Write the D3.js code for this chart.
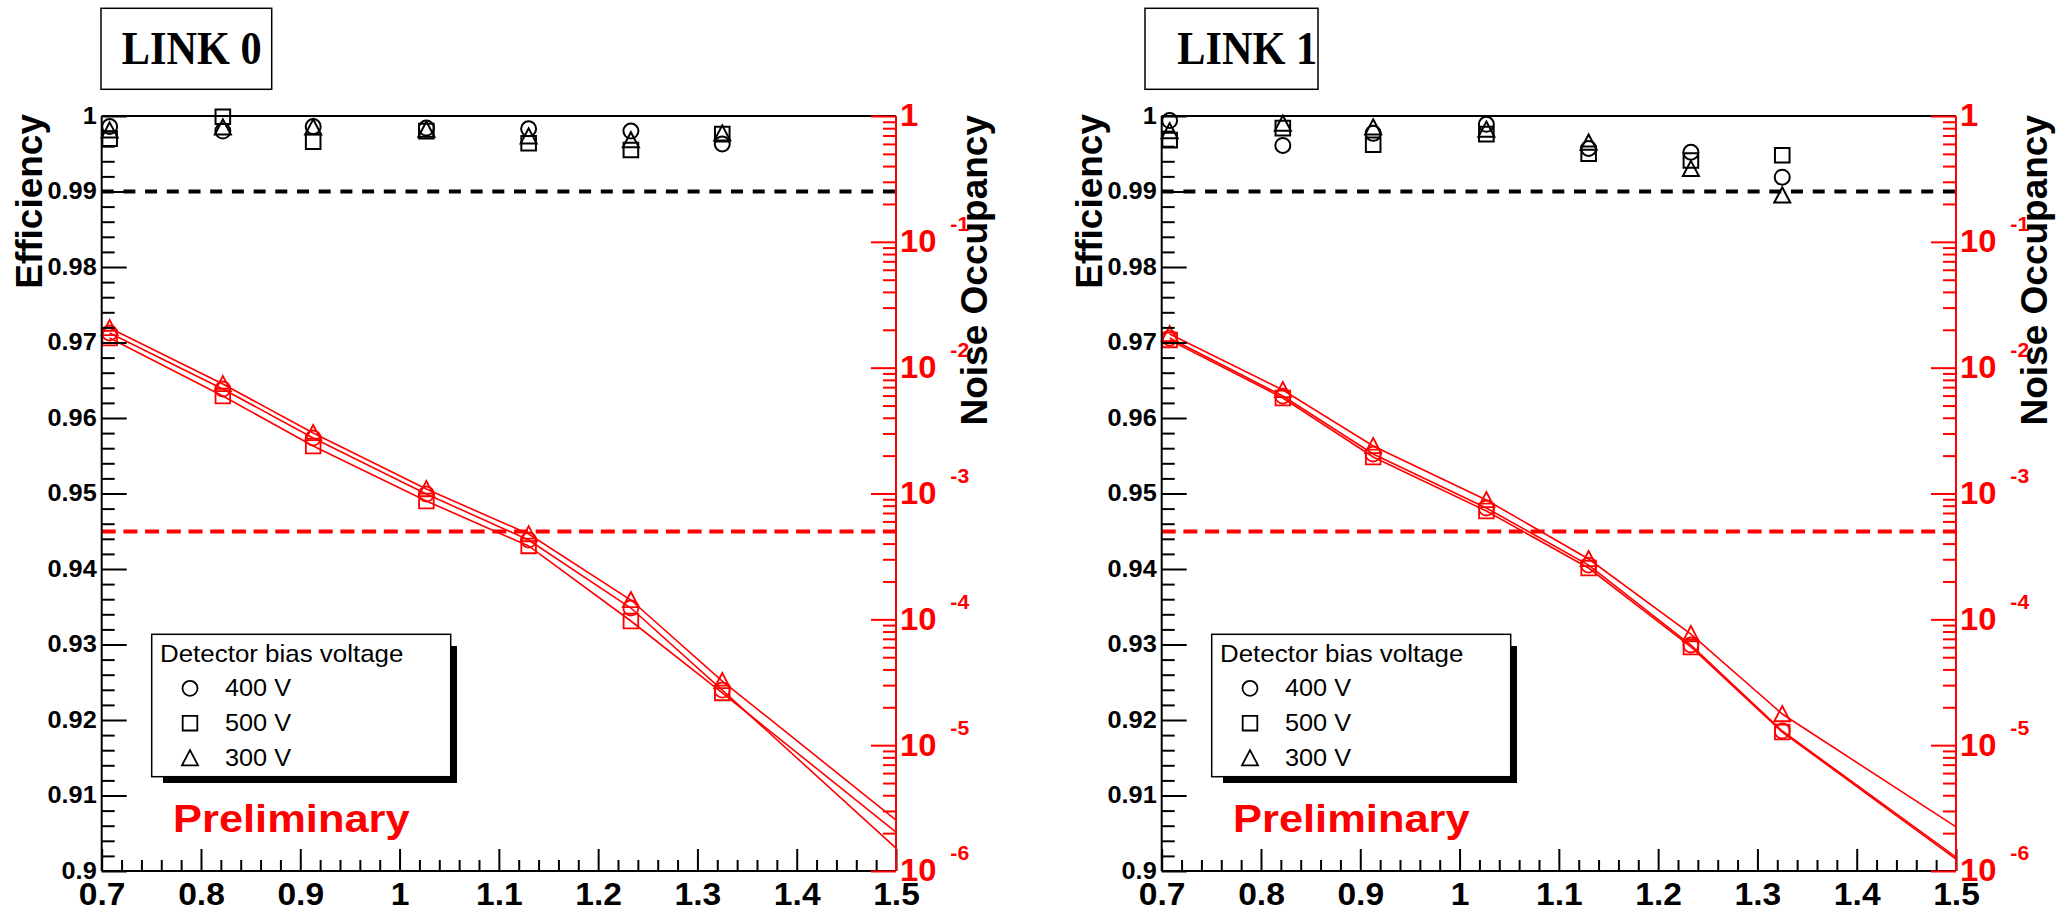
<!DOCTYPE html>
<html>
<head>
<meta charset="utf-8">
<script src="https://cdn.jsdelivr.net/npm/d3@7"></script>
<style>
  html, body { margin: 0; padding: 0; background: #fff; }
  svg { display: block; font-family: "Liberation Sans", Arial, Helvetica, sans-serif; }
</style>
</head>
<body>
<svg id="chart" width="2067" height="913"></svg>
<script>
// ---- data -------------------------------------------------------------
// Discriminator threshold of each scan point
const thresholds = [0.708, 0.822, 0.913, 1.027, 1.13, 1.233, 1.325];
const voltages = ["400 V", "500 V", "300 V"];
const markerShapes = ["circle", "square", "triangle"];

const xTickValues = [0.7, 0.8, 0.9, 1.0, 1.1, 1.2, 1.3, 1.4, 1.5];
const xTickLabels = ["0.7", "0.8", "0.9", "1", "1.1", "1.2", "1.3", "1.4", "1.5"];
const effTickValues = [1.0, 0.99, 0.98, 0.97, 0.96, 0.95, 0.94, 0.93, 0.92, 0.91, 0.9];
const effTickLabels = ["1", "0.99", "0.98", "0.97", "0.96", "0.95", "0.94", "0.93", "0.92", "0.91", "0.9"];
const noiseDecades = [0, -1, -2, -3, -4, -5, -6];

const effTarget = 0.99;       // black dashed line
const noiseLimit = 5e-4;      // red dashed line
const extrapolationX = 1.5;   // noise curves are extended to this threshold

// LINK 0
const link0Eff400 = [0.9986, 0.9980, 0.9986, 0.9984, 0.9983, 0.9980, 0.9963];
const link0Eff500 = [0.9970, 0.9999, 0.9966, 0.9980, 0.9964, 0.9955, 0.9976];
const link0Eff300 = [0.9981, 0.9985, 0.9985, 0.9982, 0.9973, 0.9968, 0.9977];
const link0Noise400 = [1.886e-2, 6.77e-3, 2.76e-3, 9.91e-4, 4.27e-4, 1.23e-4, 2.74e-5];
const link0Noise500 = [1.72e-2, 5.95e-3, 2.385e-3, 8.72e-4, 3.83e-4, 9.70e-5, 2.60e-5];
const link0Noise300 = [2.066e-2, 7.42e-3, 3.025e-3, 1.085e-3, 4.76e-4, 1.424e-4, 3.234e-5];
const link0NoiseExtrap = [1.52e-6, 2.04e-6, 2.54e-6];   // 400 V, 500 V, 300 V at x = 1.5

// LINK 1
const link1Eff400 = [0.9994, 0.9961, 0.9977, 0.9989, 0.9957, 0.9952, 0.9919];
const link1Eff500 = [0.9968, 0.9984, 0.9962, 0.9976, 0.9950, 0.9941, 0.9948];
const link1Eff300 = [0.9980, 0.9990, 0.9985, 0.9982, 0.9965, 0.9930, 0.9895];
const link1Noise400 = [1.72e-2, 5.95e-3, 2.06e-3, 7.67e-4, 2.70e-4, 6.25e-5, 1.296e-5];
const link1Noise500 = [1.66e-2, 5.74e-3, 1.95e-3, 7.26e-4, 2.557e-4, 6.03e-5, 1.272e-5];
const link1Noise300 = [1.851e-2, 6.65e-3, 2.385e-3, 8.88e-4, 3.015e-4, 7.64e-5, 1.768e-5];
const link1NoiseExtrap = [1.29e-6, 1.245e-6, 2.24e-6];

// ---- layout -----------------------------------------------------------
const RED = "#ff0000";
const plotW = 794.3, plotH = 755;

const panels = [
  { name: "LINK 0", left: 101.7, top: 116, boxX: -0.7, boxW: 170.7, textX: 20,
    eff: [link0Eff400, link0Eff500, link0Eff300],
    noise: [link0Noise400, link0Noise500, link0Noise300], extrap: link0NoiseExtrap },
  { name: "LINK 1", left: 1161.7, top: 116, boxX: -16.7, boxW: 173, textX: 15.5,
    eff: [link1Eff400, link1Eff500, link1Eff300],
    noise: [link1Noise400, link1Noise500, link1Noise300], extrap: link1NoiseExtrap }
];

const x = d3.scaleLinear().domain([0.7, 1.5]).range([0, plotW]);
const yEff = d3.scaleLinear().domain([0.9, 1.0]).range([plotH, 0]);
const yNoise = d3.scaleLog().domain([1e-6, 1]).range([plotH, 0]);

const svg = d3.select("#chart");

// Widen text horizontally around its anchor point
function stretch(sel, sx) {
  sel.each(function () {
    const t = d3.select(this);
    const tx = +t.attr("x") || 0;
    t.attr("x", 0).attr("transform", `translate(${tx},0) scale(${sx},1)`);
  });
}

function markerPath(shape) {
  if (shape === "circle") {
    const r = 7.5;
    return `M${r},0A${r},${r} 0 1,1 ${-r},0A${r},${r} 0 1,1 ${r},0Z`;
  }
  if (shape === "square") {
    const h = 7.3;
    return `M${-h},${-h}H${h}V${h}H${-h}Z`;
  }
  const h = 8;
  return `M0,${-h}L${h},${h * 0.9}L${-h},${h * 0.9}Z`;
}

panels.forEach(p => {
  const g = svg.append("g").attr("transform", `translate(${p.left},${p.top})`);

  // top frame edge
  g.append("line").attr("x1", 0).attr("x2", plotW).attr("y1", 0).attr("y2", 0)
    .attr("stroke", "#000").attr("stroke-width", 2);

  // reference levels
  g.append("line").attr("x1", 0).attr("x2", plotW)
    .attr("y1", yEff(effTarget)).attr("y2", yEff(effTarget))
    .attr("stroke", "#000").attr("stroke-width", 4).attr("stroke-dasharray", "12,9.7");
  g.append("line").attr("x1", 0).attr("x2", plotW)
    .attr("y1", yNoise(noiseLimit)).attr("y2", yNoise(noiseLimit))
    .attr("stroke", RED).attr("stroke-width", 4).attr("stroke-dasharray", "14,7.7");

  // noise occupancy curves
  const line = d3.line().x(d => x(d[0])).y(d => yNoise(d[1]));
  p.noise.forEach((series, k) => {
    const pts = thresholds.map((t, i) => [t, series[i]]).concat([[extrapolationX, p.extrap[k]]]);
    g.append("path").attr("d", line(pts)).attr("fill", "none")
      .attr("stroke", RED).attr("stroke-width", 1.6);
  });
  p.noise.forEach((series, k) => {
    g.append("g").selectAll("path").data(series).join("path")
      .attr("d", markerPath(markerShapes[k]))
      .attr("transform", (d, i) => `translate(${x(thresholds[i])},${yNoise(d)})`)
      .attr("fill", "none").attr("stroke", RED).attr("stroke-width", 1.8);
  });

  // efficiency points
  p.eff.forEach((series, k) => {
    g.append("g").selectAll("path").data(series).join("path")
      .attr("d", markerPath(markerShapes[k]))
      .attr("transform", (d, i) => `translate(${x(thresholds[i])},${yEff(d)})`)
      .attr("fill", "none").attr("stroke", "#000").attr("stroke-width", 2);
  });

  // x axis
  const xMinor = d3.range(0, 41).map(i => 0.7 + i * 0.02).filter((v, i) => i % 5 !== 0);
  const gxm = g.append("g").attr("transform", `translate(0,${plotH})`)
    .call(d3.axisBottom(x).tickValues(xMinor).tickSizeInner(-11).tickSizeOuter(0).tickFormat(""));
  const gx = g.append("g").attr("transform", `translate(0,${plotH})`)
    .call(d3.axisBottom(x).tickValues(xTickValues).tickSizeInner(-22).tickSizeOuter(0)
      .tickPadding(11).tickFormat((d, i) => xTickLabels[i]));
  [gxm, gx].forEach(a => { a.select(".domain").remove(); a.selectAll("line").attr("stroke", "#000").attr("stroke-width", 2); });
  gx.selectAll("text").attr("font-size", 32).attr("font-weight", "bold").attr("fill", "#000")
    .style("font-family", "'Liberation Sans', Arial, sans-serif");
  stretch(gx.selectAll("text"), 1.05);
  g.append("line").attr("x1", 0).attr("x2", plotW).attr("y1", plotH).attr("y2", plotH)
    .attr("stroke", "#000").attr("stroke-width", 2);

  // efficiency axis
  const effMinor = d3.range(0, 51).map(i => 0.9 + i * 0.002).filter((v, i) => i % 5 !== 0);
  const gym = g.append("g")
    .call(d3.axisLeft(yEff).tickValues(effMinor).tickSizeInner(-13).tickSizeOuter(0).tickFormat(""));
  const gy = g.append("g")
    .call(d3.axisLeft(yEff).tickValues(effTickValues).tickSizeInner(-25).tickSizeOuter(0)
      .tickPadding(5).tickFormat((d, i) => effTickLabels[i]));
  [gym, gy].forEach(a => { a.select(".domain").remove(); a.selectAll("line").attr("stroke", "#000").attr("stroke-width", 2); });
  gy.selectAll("text").attr("font-size", 23).attr("font-weight", "bold").attr("fill", "#000")
    .style("font-family", "'Liberation Sans', Arial, sans-serif");
  stretch(gy.selectAll("text"), 1.1);
  g.append("line").attr("x1", 0).attr("x2", 0).attr("y1", 0).attr("y2", plotH)
    .attr("stroke", "#000").attr("stroke-width", 2);

  // noise occupancy axis (log)
  const noiseMinor = [];
  noiseDecades.slice(1).forEach(e => d3.range(2, 10).forEach(k => noiseMinor.push(k * Math.pow(10, e))));
  const grm = g.append("g").attr("transform", `translate(${plotW},0)`)
    .call(d3.axisRight(yNoise).tickValues(noiseMinor).tickSizeInner(-13).tickSizeOuter(0).tickFormat(""));
  const gr = g.append("g").attr("transform", `translate(${plotW},0)`)
    .call(d3.axisRight(yNoise).tickValues(noiseDecades.map(e => Math.pow(10, e)))
      .tickSizeInner(-25).tickSizeOuter(0).tickPadding(4).tickFormat(""));
  [grm, gr].forEach(a => { a.select(".domain").remove(); a.selectAll("line").attr("stroke", RED).attr("stroke-width", 2); });
  gr.selectAll(".tick text").each(function (d, i) {
    const t = d3.select(this).attr("font-size", 31).attr("font-weight", "bold").attr("fill", RED)
      .style("font-family", "'Liberation Sans', Arial, sans-serif");
    const e = noiseDecades[i];
    if (e === 0) { t.text("1"); return; }
    t.append("tspan").text("10");
    t.append("tspan").attr("dx", 13).attr("dy", -21).attr("font-size", 20).text(String(e));
  });
  stretch(gr.selectAll(".tick text"), 1.06);
  g.append("line").attr("x1", plotW).attr("x2", plotW).attr("y1", 0).attr("y2", plotH)
    .attr("stroke", RED).attr("stroke-width", 2);

  // axis titles
  g.append("text").attr("transform", `translate(${-59.7},${-2}) rotate(-90)`)
    .attr("text-anchor", "end").attr("font-size", 37).attr("font-weight", "bold")
    .attr("fill", "#000").text("Efficiency");
  g.append("text").attr("transform", `translate(${885.3},${-1}) rotate(-90)`)
    .attr("text-anchor", "end").attr("font-size", 37).attr("font-weight", "bold")
    .attr("fill", "#000").text("Noise Occupancy");

  // link label box
  g.append("rect").attr("x", p.boxX).attr("y", -107.7).attr("width", p.boxW).attr("height", 81)
    .attr("fill", "#fff").attr("stroke", "#000").attr("stroke-width", 1.5);
  const lt = g.append("text").attr("x", p.textX).attr("y", -52)
    .style("font-family", "'Liberation Serif', 'Times New Roman', Times, serif")
    .attr("font-size", 46).attr("font-weight", "bold").attr("fill", "#000").text(p.name);
  stretch(lt, 0.92);

  // legend
  const lg = g.append("g");
  lg.append("rect").attr("x", 61.3).attr("y", 530).attr("width", 294).attr("height", 137).attr("fill", "#000");
  lg.append("rect").attr("x", 50).attr("y", 518.3).attr("width", 299).attr("height", 142.4)
    .attr("fill", "#fff").attr("stroke", "#000").attr("stroke-width", 1.5);
  const hdr = lg.append("text").attr("x", 58.3).attr("y", 545.7).attr("font-size", 24)
    .attr("fill", "#000").text("Detector bias voltage");
  stretch(hdr, 1.08);
  voltages.forEach((v, k) => {
    const cy = 572.3 + k * 34.9;
    lg.append("path").attr("d", markerPath(markerShapes[k]))
      .attr("transform", `translate(88.3,${cy})`)
      .attr("fill", "none").attr("stroke", "#000").attr("stroke-width", 1.8);
    const et = lg.append("text").attr("x", 123.3).attr("y", cy + 7.8).attr("font-size", 23)
      .attr("fill", "#000").text(v);
    stretch(et, 1.1);
  });

  const pre = g.append("text").attr("x", 71.3).attr("y", 715.7).attr("font-size", 39.5)
    .attr("font-weight", "bold").attr("fill", RED).text("Preliminary");
  stretch(pre, 1.1);
});
</script>
</body>
</html>
